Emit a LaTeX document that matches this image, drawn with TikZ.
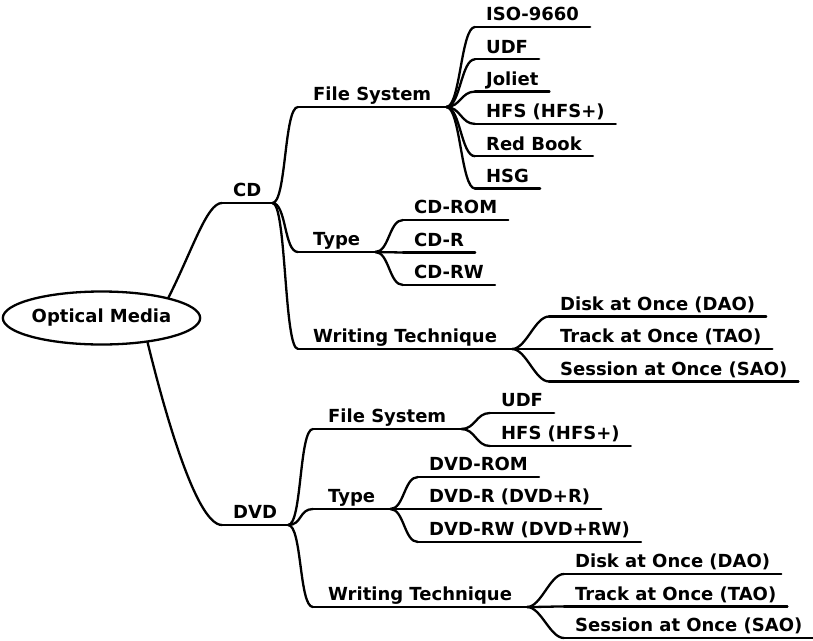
\documentclass[tikz,border=0pt]{standalone}
\usepackage{fontspec}
\setmainfont{DejaVu Sans}
\usetikzlibrary{shapes.geometric}

\begin{document}
\begin{tikzpicture}[x = 1pt, y = -1pt, line width = 2.3pt, line cap = round,
		every node/.style = {font = \fontsize{18}{21}\selectfont\bfseries,
		text height = 13.5pt, text depth = 4.5pt, inner ysep = 0.5pt,
		anchor = south west},
		topic/.style = {inner xsep = 10pt, append after command = {
		(\tikzlastnode.south west) edge (\tikzlastnode.south east)}},
		subtopic/.style = {topic, inner xsep = 14pt},
		leaf/.style = {topic},
		root/.style = {ellipse, draw, minimum width = 180pt,
		minimum height = 53pt, inner sep = 0pt, anchor = center},
		branch/.style = {to path = {.. controls +(14,0) and +(-14,0)
		.. (\tikztotarget)}}]

	\useasboundingbox (0,0) rectangle (813,640);

	\node [root] (root) at (101.5,318) {Optical Media};

	% CD
	\node [topic] (cd) at (222,203) {CD};
	\node [subtopic] (cd_fs) at (298,107) {File System};
	\node [leaf] (cd_fs_1) at (475,27) {ISO-9660};
	\node [leaf] (cd_fs_2) at (475,59.3) {UDF};
	\node [leaf] (cd_fs_3) at (475,91.6) {Joliet};
	\node [leaf] (cd_fs_4) at (475,123.9) {HFS (HFS+)};
	\node [leaf] (cd_fs_5) at (475,156.2) {Red Book};
	\node [leaf] (cd_fs_6) at (475,188.5) {HSG};
	\node [subtopic] (cd_ty) at (298,252) {Type};
	\node [leaf] (cd_ty_1) at (403,220) {CD-ROM};
	\node [leaf] (cd_ty_2) at (403,252.5) {CD-R};
	\node [leaf] (cd_ty_3) at (403,285) {CD-RW};
	\node [subtopic] (cd_wt) at (298,349) {Writing Technique};
	\node [leaf] (cd_wt_1) at (549,316.5) {Disk at Once (DAO)};
	\node [leaf] (cd_wt_2) at (549,349) {Track at Once (TAO)};
	\node [leaf] (cd_wt_3) at (549,381.5) {Session at Once (SAO)};

	% DVD
	\node [topic] (dvd) at (222,525) {DVD};
	\node [subtopic] (dvd_fs) at (313,429) {File System};
	\node [leaf] (dvd_fs_1) at (490,413) {UDF};
	\node [leaf] (dvd_fs_2) at (490,446) {HFS (HFS+)};
	\node [subtopic] (dvd_ty) at (313,509) {Type};
	\node [leaf] (dvd_ty_1) at (418,477) {DVD-ROM};
	\node [leaf] (dvd_ty_2) at (418,509) {DVD-R (DVD+R)};
	\node [leaf] (dvd_ty_3) at (418,542) {DVD-RW (DVD+RW)};
	\node [subtopic] (dvd_wt) at (313,607) {Writing Technique};
	\node [leaf] (dvd_wt_1) at (564,574) {Disk at Once (DAO)};
	\node [leaf] (dvd_wt_2) at (564,606.5) {Track at Once (TAO)};
	\node [leaf] (dvd_wt_3) at (564,638) {Session at Once (SAO)};

	\draw (root.17) .. controls +(25,-50) and +(-15,0) .. (cd.south west);
	\draw (root.-28) .. controls +(14,57) and +(-27,0) .. (dvd.south west);

	\draw [branch] (cd.south east) to (cd_fs.south west);
	\draw [branch] (cd.south east) to (cd_ty.south west);
	\draw [branch] (cd.south east) to (cd_wt.south west);
	\draw [branch] (cd_fs.south east) to (cd_fs_1.south west);
	\draw [branch] (cd_fs.south east) to (cd_fs_2.south west);
	\draw [branch] (cd_fs.south east) to (cd_fs_3.south west);
	\draw [branch] (cd_fs.south east) to (cd_fs_4.south west);
	\draw [branch] (cd_fs.south east) to (cd_fs_5.south west);
	\draw [branch] (cd_fs.south east) to (cd_fs_6.south west);
	\draw [branch] (cd_ty.south east) to (cd_ty_1.south west);
	\draw [branch] (cd_ty.south east) to (cd_ty_2.south west);
	\draw [branch] (cd_ty.south east) to (cd_ty_3.south west);
	\draw [branch] (cd_wt.south east) to (cd_wt_1.south west);
	\draw [branch] (cd_wt.south east) to (cd_wt_2.south west);
	\draw [branch] (cd_wt.south east) to (cd_wt_3.south west);

	\draw [branch] (dvd.south east) to (dvd_fs.south west);
	\draw [branch] (dvd.south east) to (dvd_ty.south west);
	\draw [branch] (dvd.south east) to (dvd_wt.south west);
	\draw [branch] (dvd_fs.south east) to (dvd_fs_1.south west);
	\draw [branch] (dvd_fs.south east) to (dvd_fs_2.south west);
	\draw [branch] (dvd_ty.south east) to (dvd_ty_1.south west);
	\draw [branch] (dvd_ty.south east) to (dvd_ty_2.south west);
	\draw [branch] (dvd_ty.south east) to (dvd_ty_3.south west);
	\draw [branch] (dvd_wt.south east) to (dvd_wt_1.south west);
	\draw [branch] (dvd_wt.south east) to (dvd_wt_2.south west);
	\draw [branch] (dvd_wt.south east) to (dvd_wt_3.south west);
\end{tikzpicture}
\end{document}
